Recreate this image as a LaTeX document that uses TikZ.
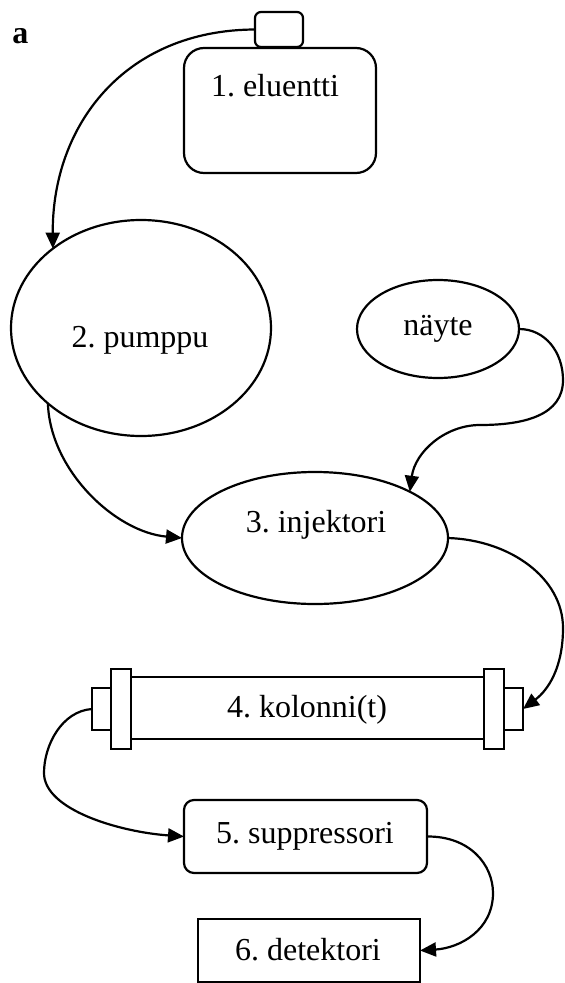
\documentclass[tikz,border=0pt]{standalone}
\usepackage{fontspec}
\setmainfont{Liberation Serif}
\frenchspacing
\usetikzlibrary{arrows.meta,shapes.geometric}
\begin{document}
\begin{tikzpicture}[x=1pt,y=-1pt,
  every node/.style={inner sep=0pt, outer sep=0pt},
  lbl/.style={anchor=base, font=\fontsize{32}{38}\selectfont},
  shp/.style={draw, line width=2.2pt},
  flow/.style={draw, line width=2.2pt, -{Triangle[length=16pt,width=14pt]}},
]
\path[use as bounding box] (0,0) rectangle (565,983);

% 1. eluentti
\node[shp, rounded corners=6pt, minimum width=48pt, minimum height=35pt] (cap) at (279,29.5) {};
\node[shp, rounded corners=20pt, minimum width=192pt, minimum height=125pt] (elu) at (280,110.5) {};
\node[lbl] (elutxt) at (275,96) {1. eluentti};

% 2. pumppu
\node[shp, ellipse, minimum width=260pt, minimum height=216pt] (pump) at (141,328) {};
\node[lbl] (pumptxt) at (140,347) {2. pumppu};

% naeyte
\node[shp, ellipse, minimum width=162pt, minimum height=98pt] (nayte) at (438,329) {};
\node[lbl] (naytetxt) at (438,335) {näyte};

% 3. injektori
\node[shp, ellipse, minimum width=266pt, minimum height=132pt] (inj) at (315,538) {};
\node[lbl] (injtxt) at (316,532) {3. injektori};

% 4. kolonni(t)
\node[shp, minimum width=353pt, minimum height=62pt] (tube) at (307.5,708) {};
\node[shp, fill=white, minimum width=20pt, minimum height=42pt] (lcap) at (102,709) {};
\node[shp, fill=white, minimum width=19pt, minimum height=42pt] (rcap) at (513.5,709) {};
\node[shp, fill=white, minimum width=20pt, minimum height=80pt] (lfl) at (121,709) {};
\node[shp, fill=white, minimum width=20pt, minimum height=80pt] (rfl) at (494,709) {};
\node[lbl] (coltxt) at (307,717) {4. kolonni(t)};

% 5. suppressori
\node[shp, rounded corners=10pt, minimum width=243pt, minimum height=73pt] (sup) at (305.5,836.5) {};
\node[lbl] (suptxt) at (305,843) {5. suppressori};

% 6. detektori
\node[shp, minimum width=222pt, minimum height=63pt] (det) at (309,950.5) {};
\node[lbl] (dettxt) at (308,960) {6. detektori};

% panel letter
\node[lbl, font=\bfseries\fontsize{32}{38}\selectfont] (letter) at (20.5,43) {a};

% connectors
\draw[flow] (cap.west) .. controls (125,30) and (52,125) .. (pump.138);
\draw[flow] (pump.219) .. controls (50,470) and (115,532) .. (inj.west);
\draw[flow] (nayte.east) .. controls (545,329) and (563,352) .. (563,380)
  .. controls (563,415) and (525,425) .. (480,425)
  .. controls (445,425) and (415,452) .. (inj.26);
\draw[flow] (inj.east) .. controls (510,540) and (563,578) .. (563,628)
  .. controls (563,668) and (548,690) .. (rcap.east);
\draw[flow] (lcap.west) .. controls (62,711) and (44,745) .. (44,773)
  .. controls (44,810) and (120,832) .. (sup.west);
\draw[flow] (sup.east) .. controls (470,836) and (493,865) .. (493,893)
  .. controls (493,930) and (460,948) .. (det.east);
\end{tikzpicture}
\end{document}
